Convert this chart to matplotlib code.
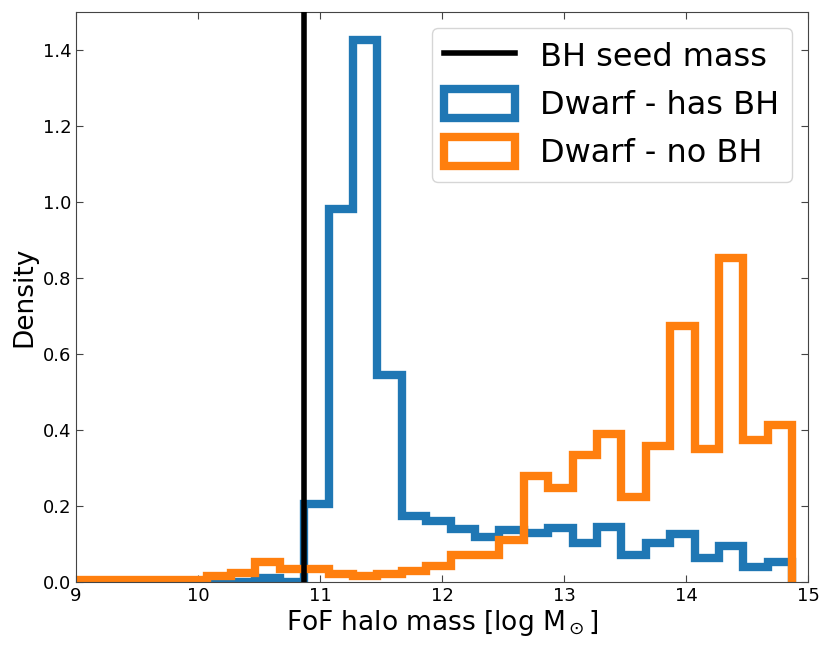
import numpy as np
import matplotlib
matplotlib.use("Agg")
import matplotlib.pyplot as plt

# bin edges (log halo mass), 0.2 dex wide
edges = np.round(8.87 + 0.2 * np.arange(31), 2)

has_bh = [0, 0, 0, 0, 0, 0, 0, 0, 0.01, 0,
          0.205, 0.982, 1.427, 0.546, 0.173, 0.161, 0.140, 0.119, 0.138, 0.128,
          0.142, 0.103, 0.144, 0.072, 0.103, 0.127, 0.064, 0.096, 0.040, 0.052]
no_bh = [0.006, 0.006, 0.006, 0.006, 0.006, 0.006, 0.015, 0.024, 0.052, 0.034,
         0.034, 0.021, 0.015, 0.020, 0.028, 0.042, 0.072, 0.072, 0.110, 0.278,
         0.247, 0.334, 0.389, 0.225, 0.358, 0.675, 0.349, 0.852, 0.374, 0.413]
seed_mass = 10.87

fig = plt.figure(figsize=(8.3, 6.49), dpi=100)
ax = fig.add_axes([0.0916, 0.1032, 0.882, 0.8783])

ax.axvline(seed_mass, color="black", lw=4, label="BH seed mass", zorder=3)
ax.hist(edges[:-1], bins=edges, weights=has_bh, histtype="step", lw=6,
        color="#1f77b4", label="Dwarf - has BH")
ax.hist(edges[:-1], bins=edges, weights=no_bh, histtype="step", lw=6,
        color="#ff7f0e", label="Dwarf - no BH")

ax.set_xlim(9, 15)
ax.set_ylim(0, 1.5)
ax.set_xticks(np.arange(9, 16))
ax.set_yticks(np.arange(0, 1.41, 0.2))
ax.set_yticklabels([f"{v:.1f}" for v in np.arange(0, 1.41, 0.2)])
ax.tick_params(direction="in", top=True, right=True, labelsize=13,
               length=5, color="#444444")
for s in ax.spines.values():
    s.set_color("#444444")

ax.set_xlabel(r"FoF halo mass [log M$_\odot$]", fontsize=19, labelpad=2)
ax.set_ylabel("Density", fontsize=19, labelpad=4)
ax.legend(loc="upper right", fontsize=23, handlelength=2.2, handleheight=1.0,
          labelspacing=0.5, borderaxespad=0.5)

fig.savefig("out.png", dpi=100)
